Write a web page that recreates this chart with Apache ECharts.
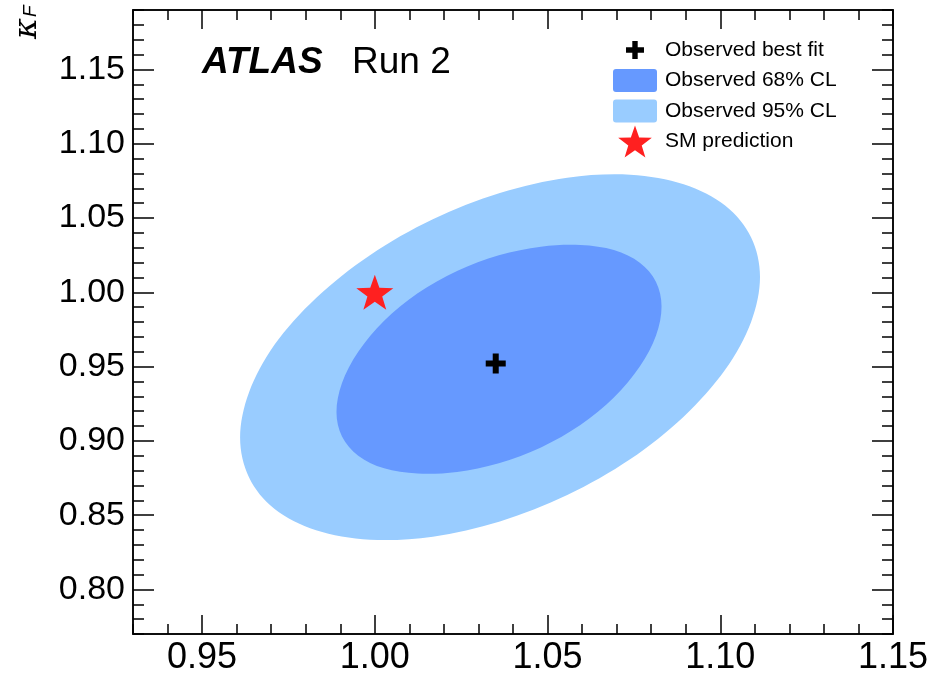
<!DOCTYPE html>
<html>
<head>
<meta charset="utf-8">
<script src="https://cdn.jsdelivr.net/npm/echarts@6/dist/echarts.min.js"></script>
<style>
html,body{margin:0;padding:0;background:#fff;}
#chart{width:945px;height:676px;}
</style>
</head>
<body>
<div id="chart"></div>
<script>
// ---- data ----
const xRange = [0.93, 1.15];
const yRange = [0.77, 1.19];
const xTickLabels = [0.95, 1.00, 1.05, 1.10, 1.15];
const yTickLabels = [0.80, 0.85, 0.90, 0.95, 1.00, 1.05, 1.10, 1.15];
const minorStep = 0.01;

// 95% CL contour (kV, kF)
const contour95 = [
  [1.1115, 1.0103], [1.1089, 0.9799], [1.1014, 0.9478], [1.0894, 0.9163],
  [1.0739, 0.8876], [1.0557, 0.8635], [1.0362, 0.8457], [1.0168, 0.8355],
  [0.9986, 0.8335], [0.9830, 0.8399], [0.9710, 0.8542], [0.9636, 0.8754],
  [0.9610, 0.9022], [0.9636, 0.9327], [0.9710, 0.9648], [0.9830, 0.9962],
  [0.9986, 1.0250], [1.0168, 1.0491], [1.0362, 1.0668], [1.0557, 1.0771],
  [1.0739, 1.0791], [1.0894, 1.0727], [1.1014, 1.0584], [1.1089, 1.0371]
];
// 68% CL contour
const contour68 = [
  [1.0830, 0.9905], [1.0814, 0.9709], [1.0767, 0.9500], [1.0692, 0.9291],
  [1.0595, 0.9106], [1.0481, 0.8956], [1.0359, 0.8850], [1.0238, 0.8791],
  [1.0124, 0.8780], [1.0027, 0.8815], [0.9952, 0.8900], [0.9905, 0.9029],
  [0.9889, 0.9194], [0.9905, 0.9389], [0.9952, 0.9599], [1.0027, 0.9808],
  [1.0124, 0.9993], [1.0238, 1.0143], [1.0359, 1.0249], [1.0481, 1.0307],
  [1.0595, 1.0318], [1.0692, 1.0284], [1.0767, 1.0199], [1.0814, 1.0070]
];
const bestFit = [[1.035, 0.952]];
const smPrediction = [[1.00, 1.00]];

const names = ['Observed best fit', 'Observed 68% CL', 'Observed 95% CL', 'SM prediction'];
const colors = {c68: '#6699ff', c95: '#99ccff', star: '#ff2020', fit: '#000000'};

// ---- shapes ----
const crossPath = 'path://M35,0H65V35H100V65H65V100H35V65H0V35H35Z';
const crossLegend = 'path://M-39,-39M139,139M35,0H65V35H100V65H65V100H35V65H0V35H35Z';
const starPath = 'path://M50,0L61.76,33.82L97.55,34.55L69.02,56.18L79.39,90.45L50,70L20.61,90.45L30.98,56.18L2.45,34.55L38.24,33.82Z';
const boxLegend = 'path://M0,-4.5M0,27.5M3,0H41Q44,0 44,3V20Q44,23 41,23H3Q0,23 0,20V3Q0,0 3,0Z';

const FONT = 'Liberation Sans, Arial, Helvetica, sans-serif';
const LINE = {show: true, lineStyle: {color: '#000', width: 1.5}};

function xAxisDef(pos, major, labels) {
  const a = {
    type: 'value', min: xRange[0], max: xRange[1], position: pos,
    interval: minorStep,
    axisLine: LINE,
    splitLine: {show: false},
    axisTick: {show: true, inside: true, length: major ? 19 : 10, lineStyle: {color: '#000', width: 1.5}},
    axisLabel: {show: false}
  };
  if (major) a.axisTick.customValues = xTickLabels;
  if (labels) {
    a.axisLabel = {show: true, customValues: xTickLabels, formatter: v => v.toFixed(2),
      fontSize: 36, fontFamily: FONT, color: '#000', margin: 6};
  }
  return a;
}
function yAxisDef(pos, major, labels) {
  const a = {
    type: 'value', min: yRange[0], max: yRange[1], position: pos,
    interval: minorStep,
    axisLine: LINE,
    splitLine: {show: false},
    axisTick: {show: true, inside: true, length: major ? 21 : 11, lineStyle: {color: '#000', width: 1.5}},
    axisLabel: {show: false}
  };
  if (major) a.axisTick.customValues = yTickLabels;
  if (labels) {
    a.axisLabel = {show: true, customValues: yTickLabels, formatter: v => v.toFixed(2),
      fontSize: 34, fontFamily: FONT, color: '#000', margin: 8};
  }
  return a;
}

// closed smooth outline through the read contour points (Catmull-Rom as cubic Bezier)
function smoothClosedPath(pts) {
  const n = pts.length;
  let d = 'M' + pts[0][0] + ',' + pts[0][1];
  for (let i = 0; i < n; i++) {
    const p0 = pts[(i - 1 + n) % n], p1 = pts[i], p2 = pts[(i + 1) % n], p3 = pts[(i + 2) % n];
    const c1x = p1[0] + (p2[0] - p0[0]) / 6, c1y = p1[1] + (p2[1] - p0[1]) / 6;
    const c2x = p2[0] - (p3[0] - p1[0]) / 6, c2y = p2[1] - (p3[1] - p1[1]) / 6;
    d += 'C' + c1x + ',' + c1y + ',' + c2x + ',' + c2y + ',' + p2[0] + ',' + p2[1];
  }
  return d + 'Z';
}

function contourRenderer(points, color) {
  return function (params, api) {
    if (params.dataIndex !== 0) return null;
    const pts = points.map(p => api.coord(p));
    return {
      type: 'path',
      shape: {pathData: smoothClosedPath(pts)},
      style: {fill: color, stroke: null}
    };
  };
}

const chart = echarts.init(document.getElementById('chart'), null, {renderer: 'canvas'});
chart.setOption({
  animation: false,
  backgroundColor: '#fff',
  grid: {left: 133, right: 52, top: 10, bottom: 42},
  xAxis: [
    xAxisDef('bottom', false, false),
    xAxisDef('bottom', true, true),
    xAxisDef('top', false, false),
    xAxisDef('top', true, false)
  ],
  yAxis: [
    yAxisDef('left', false, false),
    yAxisDef('left', true, true),
    yAxisDef('right', false, false),
    yAxisDef('right', true, false)
  ],
  legend: {
    orient: 'vertical', left: 613, top: 34, padding: 0,
    itemWidth: 44, itemHeight: 32, itemGap: -1.5,
    textStyle: {fontSize: 21, fontFamily: FONT, color: '#000', padding: [0, 0, 0, 3]},
    selectedMode: false,
    data: [
      {name: names[0], icon: crossLegend, itemStyle: {color: colors.fit, opacity: 1}},
      {name: names[1], icon: boxLegend, itemStyle: {color: colors.c68, opacity: 1}},
      {name: names[2], icon: boxLegend, itemStyle: {color: colors.c95, opacity: 1}},
      {name: names[3], icon: starPath, itemStyle: {color: colors.star, opacity: 1}}
    ]
  },
  graphic: [
    {type: 'text', left: 202, top: 44, style: {text: 'ATLAS', font: 'italic bold 37px ' + FONT, fill: '#000'}},
    {type: 'text', left: 352, top: 44, style: {text: 'Run 2', font: '37px ' + FONT, fill: '#000'}},
    {type: 'text', x: 28, y: 39, rotation: Math.PI / 2,
      style: {text: 'κ', font: 'italic 32px DejaVu Serif, serif', fill: '#000', align: 'left', verticalAlign: 'middle'}},
    {type: 'text', x: 31, y: 17, rotation: Math.PI / 2,
      style: {text: 'F', font: 'italic 19px ' + FONT, fill: '#000', align: 'left', verticalAlign: 'middle'}}
  ],
  series: [
    {
      name: names[2], type: 'custom', xAxisIndex: 0, yAxisIndex: 0,
      data: contour95, itemStyle: {color: colors.c95},
      renderItem: contourRenderer(contour95, colors.c95), z: 1
    },
    {
      name: names[1], type: 'custom', xAxisIndex: 0, yAxisIndex: 0,
      data: contour68, itemStyle: {color: colors.c68},
      renderItem: contourRenderer(contour68, colors.c68), z: 2
    },
    {
      name: names[0], type: 'scatter', xAxisIndex: 0, yAxisIndex: 0,
      data: bestFit, symbol: crossPath, symbolSize: 20,
      itemStyle: {color: colors.fit, opacity: 1}, z: 5
    },
    {
      name: names[3], type: 'scatter', xAxisIndex: 0, yAxisIndex: 0,
      data: smPrediction, symbol: starPath, symbolSize: [37, 35],
      itemStyle: {color: colors.star, opacity: 1}, z: 5
    }
  ]
});
</script>
</body>
</html>
